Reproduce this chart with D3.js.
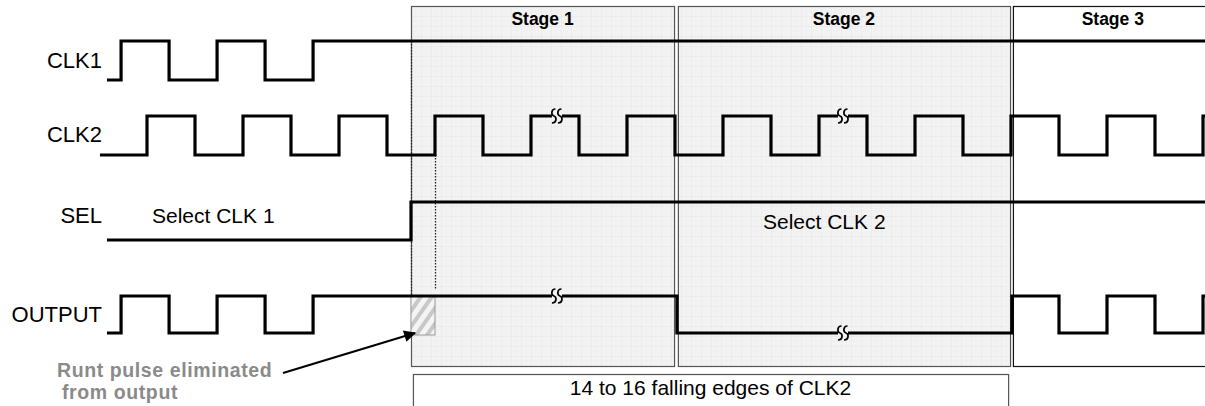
<!DOCTYPE html>
<html>
<head>
<meta charset="utf-8">
<script src="https://cdn.jsdelivr.net/npm/d3@7"></script>
<style>
  html, body { margin: 0; padding: 0; background: #ffffff; }
  svg { display: block; }
  text { font-family: "Liberation Sans", Arial, sans-serif; }
</style>
</head>
<body>
<svg id="chart" width="1205" height="406"></svg>
<script>
// ---------------- DATA (time in ns, levels 0 = low, 1 = high) ----------------
const signalNames = ["CLK1", "CLK2", "SEL", "OUTPUT"];

// each waveform: start time, starting level, list of toggle times
const clk1Start = 0.83, clk1Level0 = 0;
const clk1Edges = [2.3, 7.3, 12.3, 17.3, 22.3];

const clk2Start = 0.1, clk2Level0 = 0;
const clk2Edges = [5, 10, 15, 20, 25, 30, 35, 40, 45, 50, 55, 60, 65, 70, 75, 80,
                   85, 90, 95, 100, 105, 110, 115];

const selStart = 0.83, selLevel0 = 0;
const selEdges = [32.5];

const outStart = 0.83, outLevel0 = 0;
const outEdges = [2.3, 7.3, 12.3, 17.3, 22.3, 60.2, 95.1, 100, 105, 110, 115];

const endTime = 115.3;

const stageNames  = ["Stage 1", "Stage 2", "Stage 3"];
const stageStarts = [32.5, 60.3, 95.2];
const stageEnds   = [59.9, 94.9, 116];
const stageShaded = [true, true, false];

// break ("SS") marks: signal, time, level
const breakSignals = ["CLK2", "CLK2", "OUTPUT", "OUTPUT"];
const breakTimes   = [47.7, 77.5, 47.7, 77.5];
const breakLevels  = [1, 1, 1, 0];

const selTexts = ["Select CLK 1", "Select CLK 2"];
const runtStart = 32.5, runtEnd = 35;
const edgeBoxStart = 32.7, edgeBoxEnd = 94.7;
const edgeBoxText = "14 to 16 falling edges of CLK2";
const runtLabel = ["Runt pulse eliminated", "from output"];

// ---------------- LAYOUT ----------------
const W = 1205, H = 406;
const svg = d3.select("#chart");

const x = d3.scaleLinear().domain([0, 115]).range([99, 99 + 9.6 * 115]);

// per-row vertical scales (level -> pixel)
const rowLow  = { CLK1: 80, CLK2: 155, SEL: 240, OUTPUT: 333 };
const rowHigh = { CLK1: 41, CLK2: 116, SEL: 202, OUTPUT: 296 };
const y = {};
signalNames.forEach(s => {
  y[s] = d3.scaleLinear().domain([0, 1]).range([rowLow[s], rowHigh[s]]);
});

function wavePoints(start, level0, edges, end) {
  const pts = [[start, level0]];
  let lv = level0;
  edges.forEach(t => { lv = 1 - lv; pts.push([t, lv]); });
  pts.push([end, lv]);
  return pts;
}

const waves = {
  CLK1: wavePoints(clk1Start, clk1Level0, clk1Edges, endTime),
  CLK2: wavePoints(clk2Start, clk2Level0, clk2Edges, endTime),
  SEL: wavePoints(selStart, selLevel0, selEdges, endTime),
  OUTPUT: wavePoints(outStart, outLevel0, outEdges, endTime)
};

// ---------------- DEFS ----------------
const defs = svg.append("defs");
const grid = defs.append("pattern")
  .attr("id", "grid").attr("patternUnits", "userSpaceOnUse")
  .attr("x", x(stageStarts[0])).attr("y", 6)
  .attr("width", 10).attr("height", 10);
grid.append("rect").attr("width", 10).attr("height", 10).attr("fill", "#f3f3f3");
grid.append("path").attr("d", "M10 0 L0 0 L0 10").attr("fill", "none")
  .attr("stroke", "#e3e3e3").attr("stroke-width", 1);
grid.append("path").attr("d", "M5 0 L5 10 M0 5 L10 5").attr("fill", "none")
  .attr("stroke", "#ededed").attr("stroke-width", 1).attr("stroke-dasharray", "1,1");

const hatch = defs.append("pattern")
  .attr("id", "hatch").attr("patternUnits", "userSpaceOnUse")
  .attr("width", 9).attr("height", 9)
  .attr("patternTransform", "rotate(35)");
hatch.append("rect").attr("width", 9).attr("height", 9).attr("fill", "#f4f4f4");
hatch.append("rect").attr("width", 4).attr("height", 9).attr("fill", "#c8c8c8");

defs.append("marker")
  .attr("id", "arrow").attr("viewBox", "0 0 10 10")
  .attr("refX", 9).attr("refY", 5)
  .attr("markerWidth", 7).attr("markerHeight", 6)
  .attr("markerUnits", "strokeWidth")
  .attr("orient", "auto")
  .append("path").attr("d", "M0 0 L10 5 L0 10 z").attr("fill", "#000");

// ---------------- STAGE BOXES ----------------
const stageTop = 6, stageBottom = 366;
const stages = stageNames.map((n, i) => ({ name: n, s: stageStarts[i], e: stageEnds[i], shaded: stageShaded[i] }));

svg.selectAll("rect.stage").data(stages).enter().append("rect")
  .attr("class", "stage")
  .attr("x", d => x(d.s) + 0.5)
  .attr("y", stageTop + 0.5)
  .attr("width", d => x(d.e) - x(d.s))
  .attr("height", stageBottom - stageTop)
  .attr("fill", d => d.shaded ? "url(#grid)" : "#ffffff")
  .attr("stroke", (d, i) => i === 2 ? "#111" : "#555")
  .attr("stroke-width", 1.2);

svg.selectAll("text.stage").data(stages).enter().append("text")
  .attr("class", "stage")
  .attr("x", d => (x(d.s) + x(d.e)) / 2)
  .attr("y", 25)
  .attr("text-anchor", "middle")
  .attr("font-size", 17.5).attr("font-weight", "bold").attr("fill", "#000")
  .text(d => d.name);

// edges box
svg.append("rect")
  .attr("x", x(edgeBoxStart) + 0.5).attr("y", 374.5)
  .attr("width", x(edgeBoxEnd) - x(edgeBoxStart)).attr("height", 40)
  .attr("fill", "#fff").attr("stroke", "#555").attr("stroke-width", 1.2);
svg.append("text")
  .attr("x", (x(edgeBoxStart) + x(edgeBoxEnd)) / 2).attr("y", 395)
  .attr("text-anchor", "middle").attr("font-size", 21).attr("fill", "#000")
  .text(edgeBoxText);

// ---------------- RUNT HATCH ----------------
svg.append("rect")
  .attr("x", x(runtStart)).attr("y", y.OUTPUT(1))
  .attr("width", x(runtEnd) - x(runtStart))
  .attr("height", y.OUTPUT(0) - y.OUTPUT(1) + 2)
  .attr("fill", "url(#hatch)").attr("stroke", "#999").attr("stroke-width", 1);

// ---------------- DOTTED GUIDES ----------------
svg.append("line")
  .attr("x1", x(runtStart) + 0.5).attr("x2", x(runtStart) + 0.5)
  .attr("y1", y.CLK1(1)).attr("y2", y.OUTPUT(1))
  .attr("stroke", "#222").attr("stroke-width", 1.3).attr("stroke-dasharray", "1.5,1.5");
svg.append("line")
  .attr("x1", x(runtEnd) + 0.5).attr("x2", x(runtEnd) + 0.5)
  .attr("y1", y.CLK2(0)).attr("y2", y.OUTPUT(1) - 6)
  .attr("stroke", "#222").attr("stroke-width", 1.3).attr("stroke-dasharray", "1.5,1.5");

// ---------------- WAVEFORMS ----------------
const line = d3.line().curve(d3.curveStepAfter);
signalNames.forEach(s => {
  svg.append("path")
    .attr("d", line(waves[s].map(p => [x(p[0]), y[s](p[1])])))
    .attr("fill", "none").attr("stroke", "#000").attr("stroke-width", 3.2)
    .attr("stroke-linejoin", "miter").attr("stroke-linecap", "butt");
});

// ---------------- BREAK MARKS ----------------
const breaks = breakSignals.map((s, i) => ({ s, t: breakTimes[i], lv: breakLevels[i] }));
const bg = svg.selectAll("g.brk").data(breaks).enter().append("g")
  .attr("class", "brk")
  .attr("transform", d => `translate(${x(d.t)},${y[d.s](d.lv)})`);
bg.append("rect").attr("x", -5).attr("y", -3).attr("width", 10).attr("height", 6)
  .attr("fill", "#f3f3f3");
const sPath = "M1.5 -7 C-3 -7 -3 -1 0 0 C3 1 3 7 -2 7";
bg.append("path").attr("d", sPath).attr("transform", "translate(-3,0)")
  .attr("fill", "none").attr("stroke", "#000").attr("stroke-width", 1.7);
bg.append("path").attr("d", sPath).attr("transform", "translate(3,0)")
  .attr("fill", "none").attr("stroke", "#000").attr("stroke-width", 1.7);

// ---------------- LABELS ----------------
const labelBase = { CLK1: 68, CLK2: 142, SEL: 223, OUTPUT: 322 };
svg.selectAll("text.sig").data(signalNames).enter().append("text")
  .attr("class", "sig")
  .attr("x", 102).attr("y", d => labelBase[d])
  .attr("text-anchor", "end").attr("font-size", 22).attr("fill", "#000")
  .text(d => d);

svg.append("text").attr("x", 152).attr("y", 223)
  .attr("font-size", 21).attr("fill", "#000").text(selTexts[0]);
svg.append("text").attr("x", 763).attr("y", 229)
  .attr("font-size", 21).attr("fill", "#000").text(selTexts[1]);

// runt label + arrow
svg.append("text").attr("x", 57).attr("y", 377)
  .attr("font-size", 19.5).attr("letter-spacing", 0.6)
  .attr("font-weight", "bold").attr("fill", "#8a8a8a")
  .text(runtLabel[0]);
svg.append("text").attr("x", 62).attr("y", 399)
  .attr("font-size", 19.5).attr("letter-spacing", 0.6)
  .attr("font-weight", "bold").attr("fill", "#8a8a8a")
  .text(runtLabel[1]);
svg.append("line")
  .attr("x1", 283).attr("y1", 373)
  .attr("x2", x(runtStart) + 4).attr("y2", y.OUTPUT(0))
  .attr("stroke", "#000").attr("stroke-width", 2)
  .attr("marker-end", "url(#arrow)");
</script>
</body>
</html>
